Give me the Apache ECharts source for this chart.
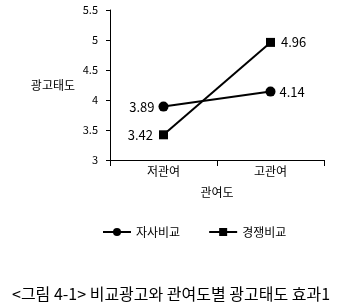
<!DOCTYPE html>
<html><head><meta charset="utf-8">
<script src="https://cdn.jsdelivr.net/npm/echarts@6/dist/echarts.min.js"></script>
<style>html,body{margin:0;padding:0;background:#fff}#c{width:344px;height:306px}</style>
</head><body><div id="c"></div>
<script>
const categories = ['저관여', '고관여'];
const selfCompare = [3.89, 4.14];
const rivalCompare = [3.42, 4.96];
const seriesNames = ['자사비교', '경쟁비교'];
const font = '"Noto Sans CJK KR", "DejaVu Sans", sans-serif';
const chart = echarts.init(document.getElementById('c'));
const labelFor = (pos) => ({position: pos});
chart.setOption({
  animation: false,
  backgroundColor: '#fff',
  textStyle: {fontFamily: font, color: '#000'},
  grid: {left: 110, top: 10, right: 20, bottom: 146},
  title: {
    text: '<그림 4-1> 비교광고와 관여도별 광고태도 효과1',
    left: 7, top: 281,
    textStyle: {fontFamily: font, fontSize: 16, fontWeight: 'normal', color: '#000'}
  },
  legend: {
    data: seriesNames,
    left: 97, top: 221, itemWidth: 28, itemHeight: 10, itemGap: 28,
    textStyle: {fontFamily: font, fontSize: 12, color: '#000'}
  },
  xAxis: {
    type: 'category', data: categories, boundaryGap: true,
    name: '관여도', nameLocation: 'middle', nameGap: 26,
    nameTextStyle: {fontFamily: font, fontSize: 12, color: '#000'},
    axisLine: {lineStyle: {color: '#000', width: 1}},
    axisTick: {show: true, length: 6, lineStyle: {color: '#000'}},
    axisLabel: {fontFamily: font, fontSize: 12, color: '#000', margin: 5}
  },
  yAxis: {
    type: 'value', min: 3, max: 5.5, interval: 0.5,
    name: '광고태도', nameLocation: 'middle', nameRotate: 0, nameGap: 35,
    nameTextStyle: {fontFamily: font, fontSize: 12, color: '#000'},
    splitLine: {show: false},
    axisLine: {show: true, lineStyle: {color: '#000', width: 1}},
    axisTick: {show: true, length: 4, lineStyle: {color: '#000'}},
    axisLabel: {fontFamily: font, fontSize: 11, color: '#000', margin: 12}
  },
  series: [
    {
      name: seriesNames[0], type: 'line',
      data: selfCompare.map((v, i) => ({value: v, label: labelFor(i === 0 ? 'left' : 'right')})),
      symbol: 'circle', symbolSize: 10,
      lineStyle: {color: '#000', width: 2}, itemStyle: {color: '#000'},
      label: {show: true, fontFamily: font, fontSize: 13, color: '#000',
        formatter: p => p.value.toFixed(2), distance: 4}
    },
    {
      name: seriesNames[1], type: 'line',
      data: rivalCompare.map((v, i) => ({value: v, label: labelFor(i === 0 ? 'left' : 'right')})),
      symbol: 'rect', symbolSize: 9,
      lineStyle: {color: '#000', width: 2}, itemStyle: {color: '#000'},
      label: {show: true, fontFamily: font, fontSize: 13, color: '#000',
        formatter: p => p.value.toFixed(2), distance: 6}
    }
  ]
});
</script></body></html>
